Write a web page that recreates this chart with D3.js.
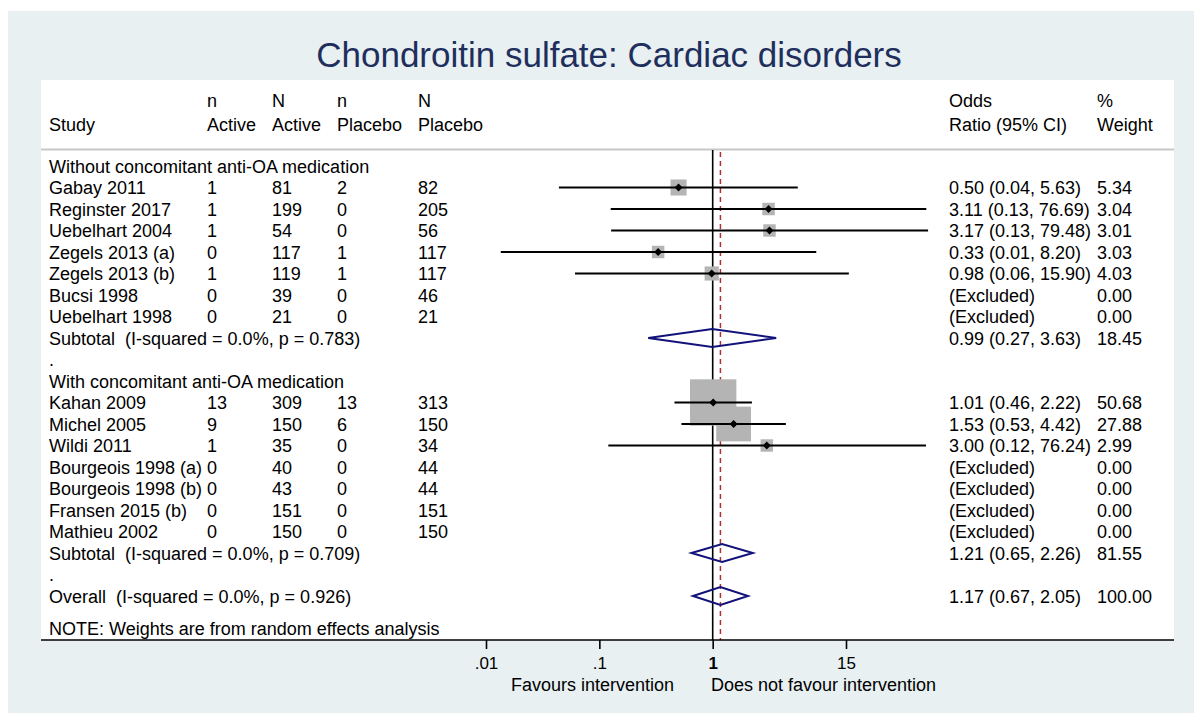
<!DOCTYPE html>
<html><head><meta charset="utf-8">
<script src="https://cdn.jsdelivr.net/npm/d3@7"></script>
<style>
body{margin:0;background:#fff}
text{font-family:"Liberation Sans",Arial,Helvetica,sans-serif;white-space:pre}
</style>
</head><body>
<svg id="chart" width="1194" height="713"></svg>
<script>
const titleText = "Chondroitin sulfate: Cardiac disorders";
const groupLabels = ["Without concomitant anti-OA medication", "With concomitant anti-OA medication"];
const studyNames = ["Gabay 2011","Reginster 2017","Uebelhart 2004","Zegels 2013 (a)","Zegels 2013 (b)","Bucsi 1998","Uebelhart 1998",
  "Kahan 2009","Michel 2005","Wildi 2011","Bourgeois 1998 (a)","Bourgeois 1998 (b)","Fransen 2015 (b)","Mathieu 2002"];
const studyGroup = [0,0,0,0,0,0,0,1,1,1,1,1,1,1];
const nActive  = [1,1,1,0,1,0,0,13,9,1,0,0,0,0];
const NActive  = [81,199,54,117,119,39,21,309,150,35,40,43,151,150];
const nPlacebo = [2,0,0,1,1,0,0,13,6,0,0,0,0,0];
const NPlacebo = [82,205,56,117,117,46,21,313,150,34,44,44,151,150];
const oddsRatio = [0.50,3.11,3.17,0.33,0.98,null,null,1.01,1.53,3.00,null,null,null,null];
const ciLower   = [0.044,0.126,0.127,0.0135,0.061,null,null,0.46,0.53,0.12,null,null,null,null];
const ciUpper   = [5.63,76.69,79.48,8.20,15.90,null,null,2.22,4.42,76.24,null,null,null,null];
const weights   = [5.34,3.04,3.01,3.03,4.03,0,0,50.68,27.88,2.99,0,0,0,0];
const pooledLabels = ["Subtotal  (I-squared = 0.0%, p = 0.783)","Subtotal  (I-squared = 0.0%, p = 0.709)","Overall  (I-squared = 0.0%, p = 0.926)"];
const pooledOR     = [0.99,1.21,1.17];
const pooledLower  = [0.27,0.65,0.67];
const pooledUpper  = [3.63,2.26,2.05];
const pooledWeight = [18.45,81.55,100.00];
const tickValues = [0.01,0.1,1,15];
const tickLabels = [".01",".1","1","15"];
const noteText = "NOTE: Weights are from random effects analysis";
const favourLeft = "Favours intervention";
const favourRight = "Does not favour intervention";

// ---- layout ----
const svg = d3.select("#chart");
const FS = 18;
const plotL = 41, plotR = 1174, plotT = 80, axisY = 640;
const col = {study:49, nA:207, NA:272, nP:337, NP:418, or:949, w:1097};

svg.append("rect").attr("x",8).attr("y",11).attr("width",1186).attr("height",702).attr("fill","#e8f0f2");
svg.append("rect").attr("x",plotL).attr("y",plotT).attr("width",plotR-plotL).attr("height",axisY-plotT).attr("fill","#fff");

svg.append("text").attr("x",609).attr("y",67).attr("text-anchor","middle")
  .attr("font-size",35).attr("fill","#1f2f5d").text(titleText);

// build rows
const rows = [];
let r = 0;
[0,1].forEach(g => {
  rows.push({type:"group", idx:g, row:r++});
  studyNames.forEach((s,i) => { if (studyGroup[i]===g) rows.push({type:"study", idx:i, row:r++}); });
  rows.push({type:"pooled", idx:g, row:r++});
  rows.push({type:"dot", row:r++});
});
rows.push({type:"pooled", idx:2, row:r++});

const y = d3.scaleLinear().domain([0,20]).range([166,596]);
const x = d3.scaleLog().domain([0.01,15]).range([486,846]);
const side = d3.scaleSqrt().domain([0,100]).range([1.5,64.5]);
const fmt = v => v.toFixed(2);

// header
const hdr = svg.append("g").attr("font-size",FS).attr("fill","#000");
const hdrLines = [
  [col.study, null, "Study"], [col.nA,"n","Active"], [col.NA,"N","Active"], [col.nP,"n","Placebo"],
  [col.NP,"N","Placebo"], [col.or,"Odds","Ratio (95% CI)"], [col.w,"%","Weight"]];
hdrLines.forEach(([cx,l1,l2]) => {
  if (l1) hdr.append("text").attr("x",cx).attr("y",107).text(l1);
  hdr.append("text").attr("x",cx).attr("y",131).text(l2);
});
svg.append("line").attr("x1",plotL).attr("x2",plotR).attr("y1",149.5).attr("y2",149.5)
  .attr("stroke","#c8c8c8").attr("stroke-width",2);

// reference lines
svg.append("line").attr("x1",x(1)).attr("x2",x(1)).attr("y1",150).attr("y2",axisY)
  .attr("stroke","#000").attr("stroke-width",1.6);
svg.append("line").attr("x1",x(pooledOR[2])).attr("x2",x(pooledOR[2])).attr("y1",152).attr("y2",axisY)
  .attr("stroke","#b03030").attr("stroke-width",1.5).attr("stroke-dasharray","5,4");

const studyRows = rows.filter(d => d.type==="study" && oddsRatio[d.idx]!==null);
// squares
svg.append("g").selectAll("rect").data(studyRows).join("rect")
  .attr("x", d => x(oddsRatio[d.idx]) - side(weights[d.idx])/2)
  .attr("y", d => y(d.row) - side(weights[d.idx])/2)
  .attr("width", d => side(weights[d.idx]))
  .attr("height", d => side(weights[d.idx]))
  .attr("fill","#b4b4b4");
// CI lines
svg.append("g").selectAll("line").data(studyRows).join("line")
  .attr("x1", d => x(ciLower[d.idx])).attr("x2", d => x(ciUpper[d.idx]))
  .attr("y1", d => y(d.row)).attr("y2", d => y(d.row))
  .attr("stroke","#000").attr("stroke-width",2);
// point markers
svg.append("g").selectAll("path").data(studyRows).join("path")
  .attr("d", d3.symbol(d3.symbolDiamond2 || d3.symbolDiamond, 40))
  .attr("transform", d => `translate(${x(oddsRatio[d.idx])},${y(d.row)})`)
  .attr("fill","#000");

// pooled diamonds
const pooledRows = rows.filter(d => d.type==="pooled");
svg.append("g").selectAll("path").data(pooledRows).join("path")
  .attr("d", d => {
    const yy = y(d.row), i = d.idx;
    return `M${x(pooledLower[i])},${yy}L${x(pooledOR[i])},${yy-9}L${x(pooledUpper[i])},${yy}L${x(pooledOR[i])},${yy+9}Z`;
  })
  .attr("fill","none").attr("stroke","#12127a").attr("stroke-width",2);

// text table
const tg = svg.append("g").attr("font-size",FS).attr("fill","#000");
const T = (cx, row, s) => tg.append("text").attr("x",cx).attr("y",y(row)+6.5).text(s);
rows.forEach(d => {
  if (d.type==="group") T(col.study, d.row, groupLabels[d.idx]);
  else if (d.type==="dot") T(col.study, d.row, ".");
  else if (d.type==="study") {
    const i = d.idx;
    T(col.study, d.row, studyNames[i]);
    T(col.nA, d.row, nActive[i]); T(col.NA, d.row, NActive[i]);
    T(col.nP, d.row, nPlacebo[i]); T(col.NP, d.row, NPlacebo[i]);
    T(col.or, d.row, oddsRatio[i]===null ? "(Excluded)" :
      `${fmt(oddsRatio[i])} (${fmt(ciLower[i])}, ${fmt(ciUpper[i])})`);
    T(col.w, d.row, fmt(weights[i]));
  } else {
    const i = d.idx;
    T(col.study, d.row, pooledLabels[i]);
    T(col.or, d.row, `${fmt(pooledOR[i])} (${fmt(pooledLower[i])}, ${fmt(pooledUpper[i])})`);
    T(col.w, d.row, fmt(pooledWeight[i]));
  }
});
T(col.study, 21.5, noteText);

// axis
svg.append("line").attr("x1",plotL).attr("x2",plotR).attr("y1",axisY).attr("y2",axisY)
  .attr("stroke","#000").attr("stroke-width",1.6);
const ax = svg.append("g").attr("transform",`translate(0,${axisY})`)
  .call(d3.axisBottom(x).tickValues(tickValues).tickSize(9).tickPadding(8)
    .tickFormat((d,i) => tickLabels[i]));
ax.select(".domain").remove();
ax.selectAll(".tick line").attr("stroke","#000").attr("stroke-width",1.6);
ax.selectAll(".tick text").attr("font-size",17).attr("fill","#000")
  .attr("font-family",'"Liberation Sans",Arial,sans-serif')
  .attr("font-weight",(d,i) => tickValues[i]===1 ? "bold" : "normal");
svg.append("text").attr("x",674).attr("y",691).attr("text-anchor","end").attr("font-size",FS).text(favourLeft);
svg.append("text").attr("x",711).attr("y",691).attr("font-size",FS).text(favourRight);
</script>
</body></html>
